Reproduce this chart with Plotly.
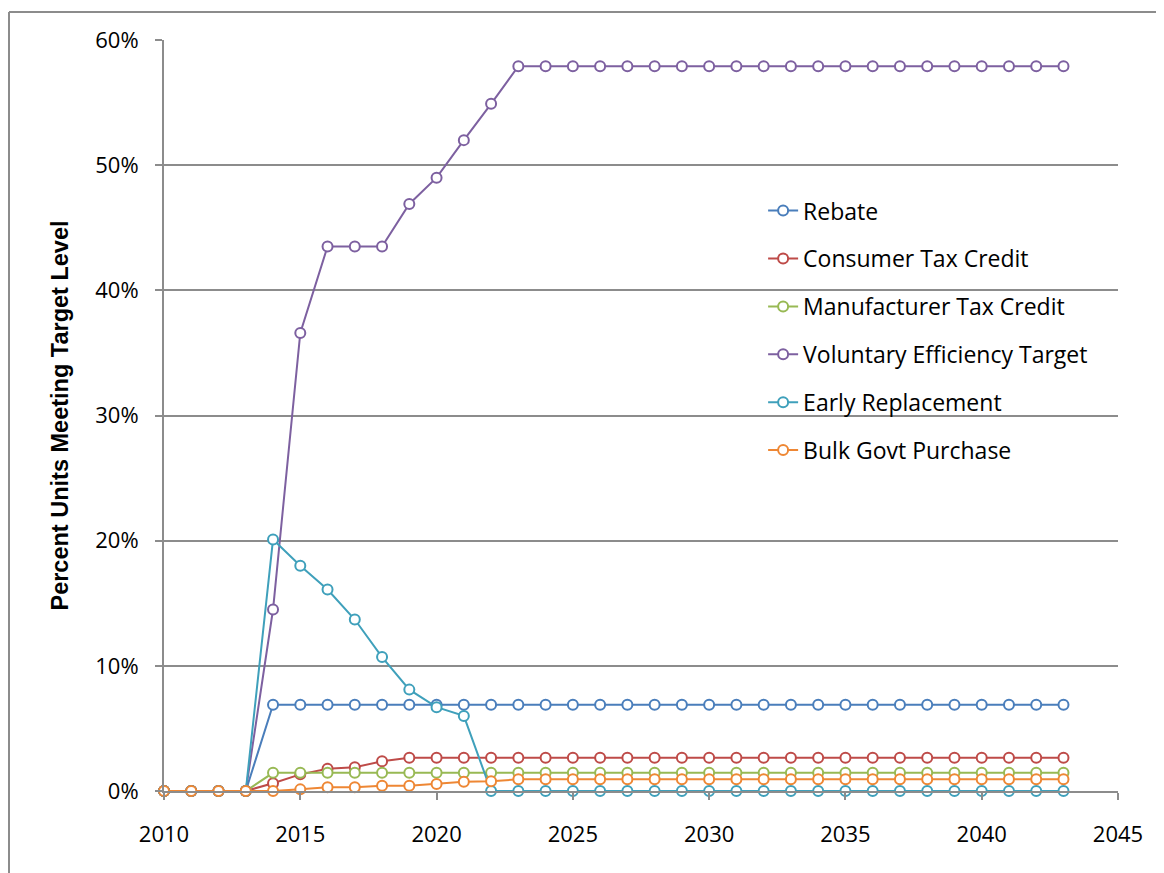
import plotly.graph_objects as go

years = [2010, 2011, 2012, 2013, 2014, 2015, 2016, 2017, 2018, 2019,
         2020, 2021, 2022, 2023, 2024, 2025, 2026, 2027, 2028, 2029,
         2030, 2031, 2032, 2033, 2034, 2035, 2036, 2037, 2038, 2039,
         2040, 2041, 2042, 2043]

rebate = [0, 0, 0, 0, 0.069, 0.069, 0.069, 0.069, 0.069, 0.069,
          0.069, 0.069, 0.069, 0.069, 0.069, 0.069, 0.069, 0.069, 0.069, 0.069,
          0.069, 0.069, 0.069, 0.069, 0.069, 0.069, 0.069, 0.069, 0.069, 0.069,
          0.069, 0.069, 0.069, 0.069]

consumer_tax_credit = [0, 0, 0, 0, 0.0062, 0.0133, 0.0178, 0.0189, 0.0237, 0.0266,
                       0.0266, 0.0266, 0.0266, 0.0266, 0.0266, 0.0266, 0.0266, 0.0266, 0.0266, 0.0266,
                       0.0266, 0.0266, 0.0266, 0.0266, 0.0266, 0.0266, 0.0266, 0.0266, 0.0266, 0.0266,
                       0.0266, 0.0266, 0.0266, 0.0266]

manufacturer_tax_credit = [0, 0, 0, 0, 0.0145, 0.0145, 0.0145, 0.0145, 0.0145, 0.0145,
                           0.0145, 0.0145, 0.0145, 0.0145, 0.0145, 0.0145, 0.0145, 0.0145, 0.0145, 0.0145,
                           0.0145, 0.0145, 0.0145, 0.0145, 0.0145, 0.0145, 0.0145, 0.0145, 0.0145, 0.0145,
                           0.0145, 0.0145, 0.0145, 0.0145]

voluntary_target = [0, 0, 0, 0, 0.145, 0.366, 0.435, 0.435, 0.435, 0.469,
                    0.490, 0.520, 0.549, 0.579, 0.579, 0.579, 0.579, 0.579, 0.579, 0.579,
                    0.579, 0.579, 0.579, 0.579, 0.579, 0.579, 0.579, 0.579, 0.579, 0.579,
                    0.579, 0.579, 0.579, 0.579]

early_replacement = [0, 0, 0, 0, 0.201, 0.180, 0.161, 0.137, 0.107, 0.081,
                     0.067, 0.060, 0, 0, 0, 0, 0, 0, 0, 0,
                     0, 0, 0, 0, 0, 0, 0, 0, 0, 0,
                     0, 0, 0, 0]

bulk_govt_purchase = [0, 0, 0, 0, 0, 0.0013, 0.0030, 0.0030, 0.0042, 0.0042,
                      0.0056, 0.0074, 0.0077, 0.0093, 0.0093, 0.0093, 0.0093, 0.0093, 0.0093, 0.0093,
                      0.0093, 0.0093, 0.0093, 0.0093, 0.0093, 0.0093, 0.0093, 0.0093, 0.0093, 0.0093,
                      0.0093, 0.0093, 0.0093, 0.0093]

series_names = ["Rebate", "Consumer Tax Credit", "Manufacturer Tax Credit",
                "Voluntary Efficiency Target", "Early Replacement", "Bulk Govt Purchase"]
series_values = [rebate, consumer_tax_credit, manufacturer_tax_credit,
                 voluntary_target, early_replacement, bulk_govt_purchase]
series_colors = ["#4A7EBB", "#BE4B48", "#98B954", "#7D60A0", "#3FA0BB", "#EE8734"]

x_ticks = [2010, 2015, 2020, 2025, 2030, 2035, 2040, 2045]
y_ticks = [0, 0.1, 0.2, 0.3, 0.4, 0.5, 0.6]

fig = go.Figure()
for i, (name, vals, col) in enumerate(zip(series_names, series_values, series_colors)):
    fig.add_trace(go.Scatter(
        x=years, y=vals, name=name, mode="lines+markers",
        legendgroup=f"g{i}", cliponaxis=False,
        line=dict(color=col, width=2),
        marker=dict(symbol="circle", size=10, color="white",
                    line=dict(color=col, width=2)),
    ))

grid_col = "#8C8C8C"
# page body has an 8px margin; figure is sized to fit the 1164x873 window
W, H = 1156, 865
L, T, R, B = 156, 32, 46, 82
pw, ph = W - L - R, H - T - B

fig.update_layout(
    width=W, height=H,
    margin=dict(l=L, r=R, t=T, b=B),
    paper_bgcolor="white", plot_bgcolor="white",
    font=dict(family="Open Sans, DejaVu Sans, sans-serif", size=22, color="black"),
    showlegend=True,
    legend=dict(x=0.628, y=0.613, xanchor="left", yanchor="middle",
                traceorder="grouped", tracegroupgap=15,
                bgcolor="rgba(255,255,255,0)",
                font=dict(family="Open Sans, DejaVu Sans, sans-serif", size=23, color="black")),
    xaxis=dict(range=[2010, 2045], tickvals=x_ticks, ticktext=[str(v) for v in x_ticks],
               showgrid=False, zeroline=False,
               showline=True, linecolor=grid_col, linewidth=2,
               ticks="outside", ticklen=7, tickwidth=2, tickcolor=grid_col,
               ticklabelstandoff=16),
    yaxis=dict(range=[0, 0.6], tickvals=y_ticks, tickformat=".0%",
               showgrid=True, gridcolor=grid_col, gridwidth=2, zeroline=False,
               showline=True, linecolor=grid_col, linewidth=2,
               ticks="outside", ticklen=7, tickwidth=2, tickcolor=grid_col,
               ticklabelstandoff=12,
               title=dict(text="Percent Units Meeting Target Level",
                          font=dict(family="Liberation Sans Narrow, Liberation Sans, sans-serif",
                                    size=23.5, color="black", weight="bold"),
                          standoff=20)),
    shapes=[
        dict(type="line", xref="paper", yref="paper",
             x0=(1 - L) / pw, x1=(1 - L) / pw, y0=-0.5, y1=(H - B - 4) / ph,
             line=dict(color="#8C8C8C", width=2), layer="above"),
        dict(type="line", xref="paper", yref="paper",
             x0=(1 - L) / pw, x1=1.5, y0=(H - B - 4) / ph, y1=(H - B - 4) / ph,
             line=dict(color="#8C8C8C", width=2), layer="above"),
    ],
)

fig.write_html("out.html")
